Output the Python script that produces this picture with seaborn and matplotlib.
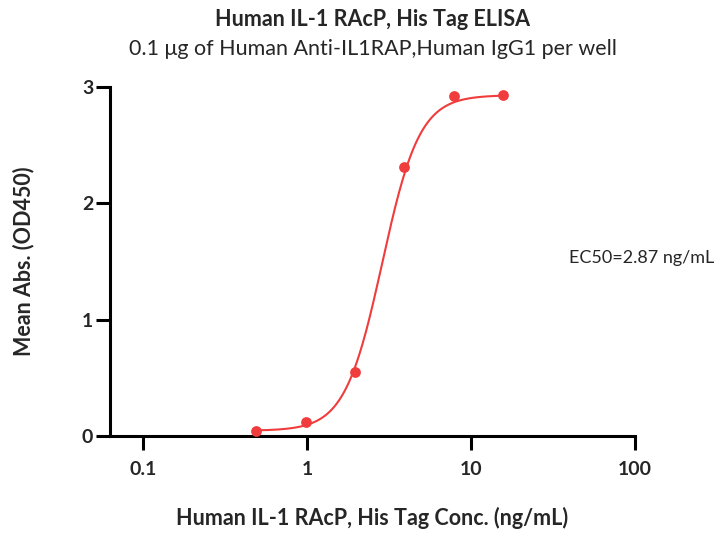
import numpy as np
import pandas as pd
import matplotlib
matplotlib.use("Agg")
import matplotlib.pyplot as plt
import seaborn as sns

# Data
conc = [0.488, 0.977, 1.953, 3.906, 7.813, 15.625]
absorb = [0.04, 0.12, 0.55, 2.31, 2.92, 2.93]
# 4PL fit parameters (bottom, top, EC50, hill)
fit_bottom, fit_top, fit_ec50, fit_hill = 0.045, 2.93, 2.87, 3.8
x_ticks = [0.1, 1, 10, 100]
x_tick_labels = ["0.1", "1", "10", "100"]
y_ticks = [0, 1, 2, 3]

title = "Human IL-1 RAcP, His Tag ELISA"
subtitle = "0.1 \u03bcg of Human Anti-IL1RAP,Human IgG1 per well"
xlabel = "Human IL-1 RAcP, His Tag Conc. (ng/mL)"
ylabel = "Mean Abs. (OD450)"
ec50_text = "EC50=2.87 ng/mL"

sns.set_theme(style="ticks")
plt.rcParams['font.family'] = ['Lato', 'DejaVu Sans']

red = "#F03C3C"
fig = plt.figure(figsize=(7.2, 5.36), dpi=100)
ax = fig.add_axes([110/720, 1-436/536, (635-110)/720, (436-87)/536])

xs = np.logspace(np.log10(conc[0]), np.log10(conc[-1]), 300)
ys = fit_bottom + (fit_top - fit_bottom) / (1 + (fit_ec50 / xs) ** fit_hill)
curve = pd.DataFrame({"x": xs, "y": ys})
pts = pd.DataFrame({"x": conc, "y": absorb})

sns.lineplot(data=curve, x="x", y="y", ax=ax, color=red, lw=1.5)
sns.scatterplot(data=pts, x="x", y="y", ax=ax, color=red, s=60, edgecolor=red, linewidth=0, zorder=5, clip_on=False)

ax.set_xscale("log")
ax.set_xlim(10 ** (-1 - (143.3 - 110) / 164), 100)
ax.set_ylim(0, 3)
ax.set_xticks(x_ticks)
ax.set_xticklabels(x_tick_labels)
ax.xaxis.set_minor_locator(matplotlib.ticker.NullLocator())
ax.set_yticks(y_ticks)
ax.set_yticklabels([str(v) for v in y_ticks])

for side in ["top", "right"]:
    ax.spines[side].set_visible(False)
for side in ["left", "bottom"]:
    ax.spines[side].set_linewidth(2.2)
    ax.spines[side].set_color("black")
ax.tick_params(axis="both", direction="out", length=10, width=2.2, color="black",
               labelsize=14)
ax.tick_params(axis="x", pad=8)
ax.tick_params(axis="y", pad=2)
for lab in ax.get_xticklabels() + ax.get_yticklabels():
    lab.set_fontweight("bold")

ax.set_xlabel(xlabel, fontsize=15.5, fontweight="bold")
ax.set_ylabel(ylabel, fontsize=15.5, fontweight="bold")
ax.xaxis.set_label_coords(0.5, (436 - 507) / 349)
ax.yaxis.set_label_coords((34 - 110) / 525, 0.5)

cx = (110 + 635) / 2 / 720
fig.text(cx, 1 - 19/536, title, ha="center", va="center", fontsize=15.5, fontweight="bold")
fig.text(cx, 1 - 49/536, subtitle, ha="center", va="center", fontsize=15.5)
fig.text(714/720, 1 - 258/536, ec50_text, ha="right", va="center", fontsize=13)

fig.savefig("out.png", dpi=100)
